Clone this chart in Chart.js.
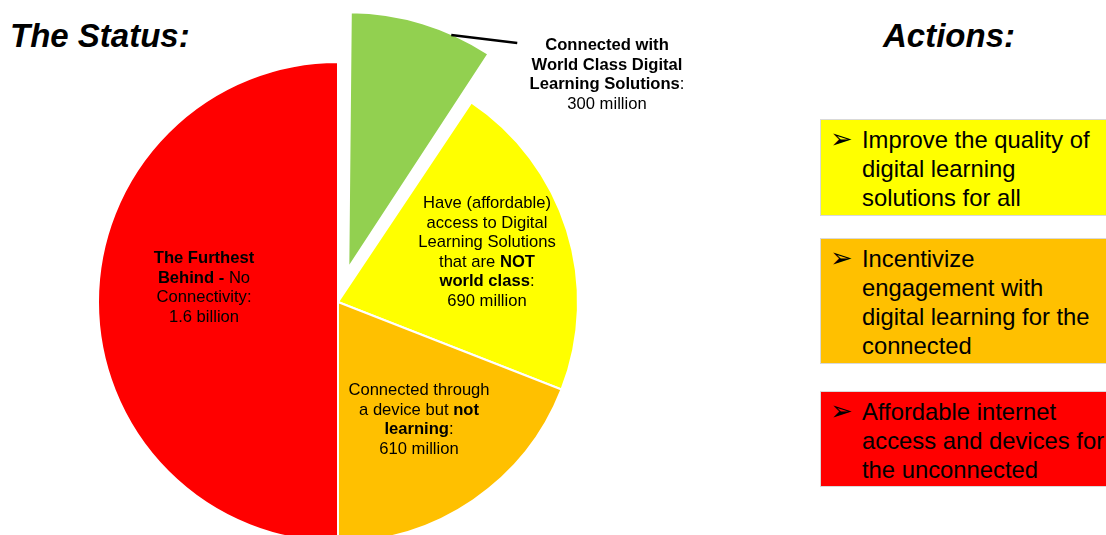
<!DOCTYPE html>
<html>
<head>
<meta charset="utf-8">
<script src="https://cdn.jsdelivr.net/npm/chart.js@4"></script>
<style>
  html, body { margin: 0; padding: 0; width: 1106px; height: 535px; overflow: hidden; background: #fff; }
  body { position: relative; font-family: 'Liberation Sans', Arial, sans-serif; color: #000; }
  #pieWrap { position: absolute; left: 38px; top: 2px; width: 600px; height: 600px; }
  .title { position: absolute; top: 17px; font-size: 33px; font-weight: bold; font-style: italic; }
  .slice-label { position: absolute; transform: translateX(-50%); text-align: center; white-space: nowrap;
                 font-size: 16.6px; line-height: 19.5px; }
  .action { position: absolute; left: 820px; width: 330px; box-sizing: border-box; border: 1px solid #d9d9d9;
            font-size: 23.8px; line-height: 29px; padding: 5px 0 0 41px; white-space: nowrap; }
  .action .arrow { position: absolute; left: 9px; font-family: 'DejaVu Sans', sans-serif; font-size: 27px; line-height: 29px; }
</style>
</head>
<body>
<div class="title" style="left:10px">The Status:</div>
<div class="title" style="left:883px">Actions:</div>

<div id="pieWrap"><canvas id="statusChart" width="600" height="600"></canvas></div>

<div class="slice-label" style="left:607px; top:35px"><b>Connected with<br>World Class Digital<br>Learning Solutions</b>:<br><span id="lbl0"></span></div>
<div class="slice-label" style="left:487px; top:193px">Have (affordable)<br>access to Digital<br>Learning Solutions<br>that are <b>NOT</b><br><b>world class</b>:<br><span id="lbl1"></span></div>
<div class="slice-label" style="left:419px; top:380px">Connected through<br>a device but <b>not</b><br><b>learning</b>:<br><span id="lbl2"></span></div>
<div class="slice-label" style="left:204px; top:248px"><b>The Furthest<br>Behind -</b> No<br>Connectivity:<br><span id="lbl3"></span></div>

<div class="action" style="top:119px; height:97px; background:#ffff00"><span class="arrow" style="top:4px">➢</span>Improve the quality of<br>digital learning<br>solutions for all</div>
<div class="action" style="top:238px; height:126px; background:#ffc000"><span class="arrow" style="top:4px">➢</span>Incentivize<br>engagement with<br>digital learning for the<br>connected</div>
<div class="action" style="top:391px; height:96px; background:#ff0000"><span class="arrow" style="top:4px">➢</span>Affordable internet<br>access and devices for<br>the unconnected</div>

<script>
// Population groups, in millions, clockwise from 12 o'clock
const categories = [
  'Connected with World Class Digital Learning Solutions',
  'Have (affordable) access to Digital Learning Solutions that are NOT world class',
  'Connected through a device but not learning',
  'The Furthest Behind - No Connectivity'
];
const valuesMillions = [300, 690, 610, 1600];
const valueLabels = ['300 million', '690 million', '610 million', '1.6 billion'];
const sliceColors = ['#92d050', '#ffff00', '#ffc000', '#ff0000'];
const sliceOffsets = [142, 0, 0, 0];

valueLabels.forEach((txt, i) => { document.getElementById('lbl' + i).textContent = txt; });

// Leader line from the exploded green slice to its label
const leaderLine = {
  id: 'leaderLine',
  afterDatasetsDraw(chart) {
    const arc = chart.getDatasetMeta(0).data[0];
    const { x, y, startAngle, endAngle, outerRadius, circumference } =
      arc.getProps(['x', 'y', 'startAngle', 'endAngle', 'outerRadius', 'circumference'], true);
    const mid = (startAngle + endAngle) / 2;
    // same shift the arc element applies when drawing an offset slice
    const fix = 1 - Math.sin(Math.min(Math.PI, circumference || 0));
    const shift = sliceOffsets[0] / 4 * (1 + fix);
    const cx = x + Math.cos(mid) * shift;
    const cy = y + Math.sin(mid) * shift;
    const a = startAngle + (endAngle - startAngle) * 0.72;
    const sx = cx + Math.cos(a) * (outerRadius - 1);
    const sy = cy + Math.sin(a) * (outerRadius - 1);
    const ctx = chart.ctx;
    ctx.save();
    ctx.strokeStyle = '#000';
    ctx.lineWidth = 2.5;
    ctx.beginPath();
    ctx.moveTo(sx, sy);
    ctx.lineTo(sx + 66, sy + 8);
    ctx.stroke();
    ctx.restore();
  }
};

const ctx = document.getElementById('statusChart').getContext('2d');
new Chart(ctx, {
  type: 'pie',
  data: {
    labels: categories,
    datasets: [{
      data: valuesMillions,
      backgroundColor: sliceColors,
      borderColor: '#ffffff',
      borderWidth: 2,
      offset: sliceOffsets,
      radius: 240
    }]
  },
  options: {
    responsive: false,
    animation: false,
    events: [],
    layout: { padding: 0 },
    plugins: {
      legend: { display: false },
      tooltip: { enabled: false }
    }
  },
  plugins: [leaderLine]
});
</script>
</body>
</html>
